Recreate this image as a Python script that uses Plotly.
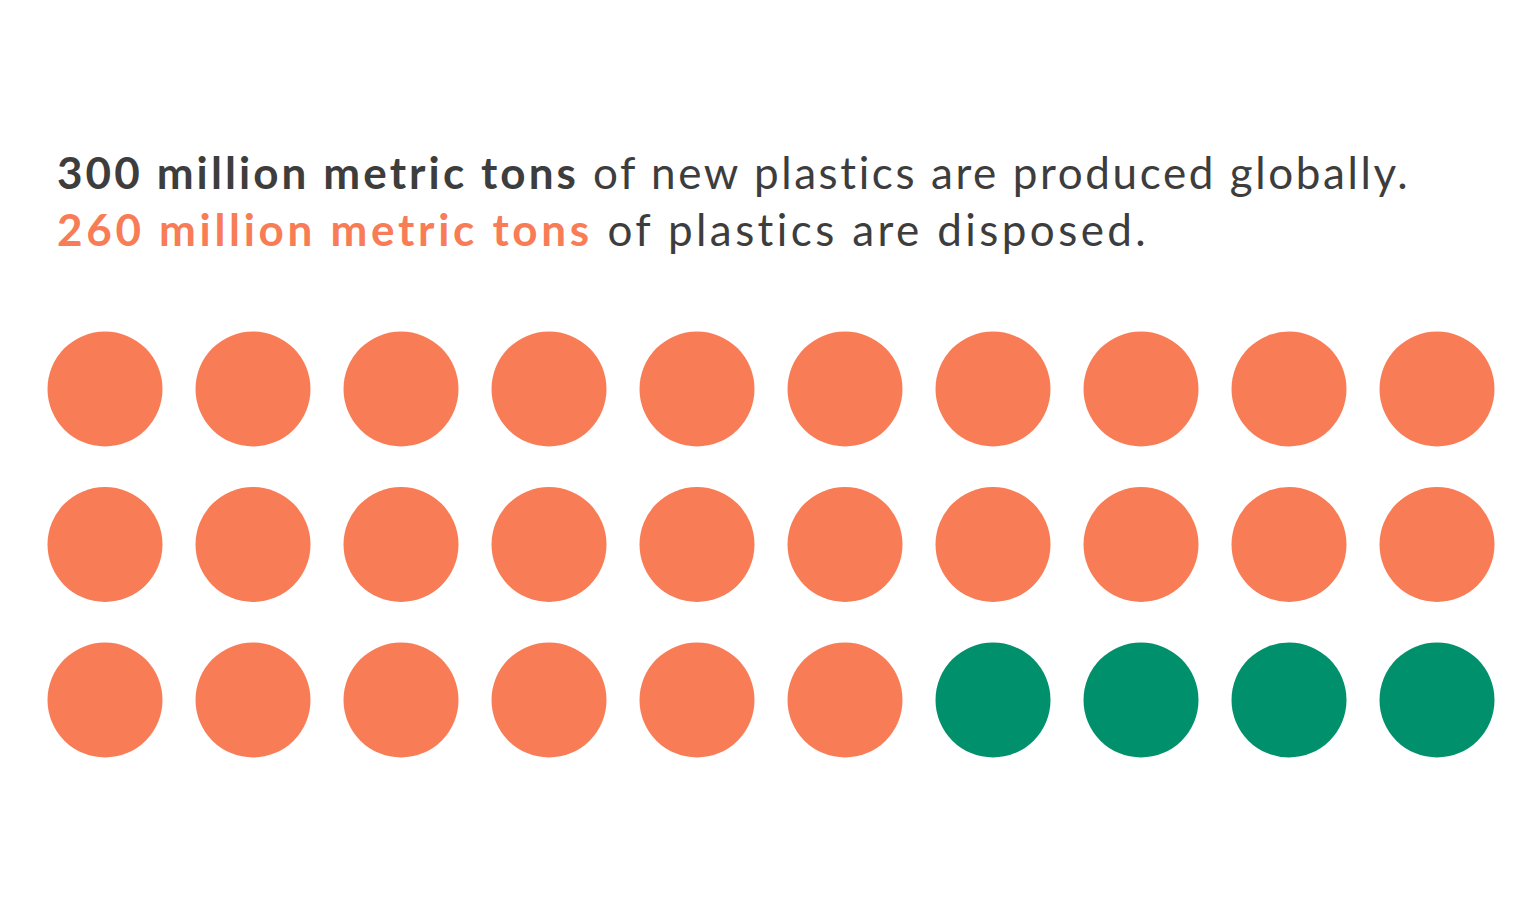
import plotly.graph_objects as go

# Data
categories = ["Disposed", "Not disposed"]
dot_counts = [26, 4]          # each dot = 10 million metric tons
cat_colors = ["#F87C56", "#00906B"]
n_cols = 10
n_rows = 3

xs, ys, cols, names = [], [], [], []
k = 0
for cat, cnt, col in zip(categories, dot_counts, cat_colors):
    for _ in range(cnt):
        xs.append(k % n_cols)
        ys.append(-(k // n_cols))
        cols.append(col)
        names.append(cat)
        k += 1

fig = go.Figure()
fig.add_trace(go.Scatter(
    x=xs, y=ys, mode="markers",
    marker=dict(size=115, color=cols, line=dict(width=0)),
    text=names, hoverinfo="text", showlegend=False,
))

W, H = 1536, 910
OFF = 8  # page body margin
cx0, cy0, dx, dy = 105 - OFF, 389 - OFF, 148, 155.5
fig.update_layout(
    width=W, height=H,
    margin=dict(l=0, r=0, t=0, b=0),
    paper_bgcolor="white", plot_bgcolor="white",
    xaxis=dict(range=[-cx0/dx, -cx0/dx + W/dx], visible=False, fixedrange=True),
    yaxis=dict(range=[cy0/dy - H/dy, cy0/dy], visible=False, fixedrange=True),
    font=dict(family="Lato", color="#3d3d3d"),
)

fig.add_annotation(
    xref="paper", yref="paper", x=(57 - OFF - 2)/W, y=1 - 192/H,
    xanchor="left", yanchor="bottom", showarrow=False, align="left",
    text="<span style='letter-spacing:2.6px'><b><span style='letter-spacing:3.1px'>300 million metric tons</span></b> of new plastics are produced globally.</span>",
    font=dict(size=44, color="#3d3d3d", family="Lato"),
)
fig.add_annotation(
    xref="paper", yref="paper", x=(57 - OFF - 2)/W, y=1 - 249/H,
    xanchor="left", yanchor="bottom", showarrow=False, align="left",
    text="<span style='letter-spacing:3.4px'><b><span style='color:#F87C56;letter-spacing:3.7px'>260 million metric tons</span></b> of plastics are disposed.</span>",
    font=dict(size=44, color="#3d3d3d", family="Lato"),
)

fig.write_html("out.html")
